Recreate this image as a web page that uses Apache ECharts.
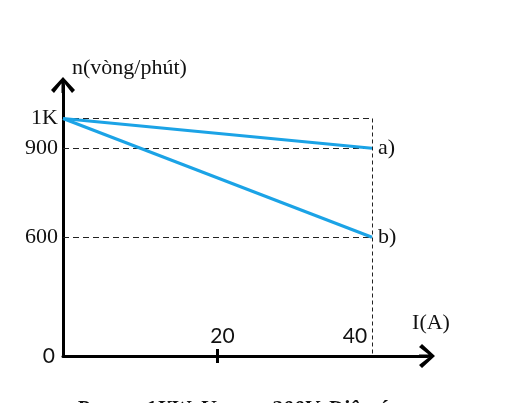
<!DOCTYPE html>
<html><head><meta charset="utf-8">
<script src="https://cdn.jsdelivr.net/npm/echarts@6/dist/echarts.min.js"></script>
<style>html,body{margin:0;padding:0;background:#fff}#c{width:510px;height:403px}</style>
</head><body><div id="c"></div>
<script>
// Data
const currents = [0, 40];            // I(A)
const speedA = [1000, 900];          // curve a) n(vòng/phút)
const speedB = [1000, 600];          // curve b)
const seriesNames = ['a)', 'b)'];
const guideSpeeds = [1000, 900, 600];
const guideCurrent = 40;
// schematic axis: bottom of the n-axis is drawn as "0" (broken scale)
const yAxisBase = 200;
const yTickValues = [200, 600, 900, 1000];
const yTickLabels = ['0', '600', '900', '1K'];
const xTickValues = [20];
const xLabelValues = [20, 40];
const xLabelTexts = ['20', '40'];

const xMax = 47.12, yMax = 1112.8;
const blue = '#1ba3e6';
const serif = '"Liberation Serif", "Times New Roman", serif';
const sans = 'Lato, "Liberation Sans", sans-serif';
const chevron = 'path://M0,13 L12,0 L24,13 L21,16 L12,4.5 L3,16 Z M10.5,4 L13.5,4 L13.5,16 L10.5,16 Z';

const gridPos = {left: 63, right: 83, top: 85, bottom: 47};

const guides = guideSpeeds.map(v => [{coord: [0, v]}, {coord: [guideCurrent, v]}]);
guides.push([{coord: [guideCurrent, guideSpeeds[0]], lineStyle: {type: [4, 3]}}, {coord: [guideCurrent, yAxisBase]}]);

const chart = echarts.init(document.getElementById('c'));
chart.setOption({
  animation: false,
  title: {
    text: '{i|P}{s|đm}{i|  =  1KW, U}{s|đm}{i|  =  200V. Điện áp}',
    left: 71, top: 392,
    textStyle: {rich: {
      i: {fontFamily: serif, fontStyle: 'italic', fontSize: 22, lineHeight: 24, color: '#111'},
      s: {fontFamily: serif, fontStyle: 'italic', fontSize: 15, lineHeight: 24, color: '#111', padding: [0, 0, 0, 2]}
    }}
  },
  grid: [Object.assign({}, gridPos), Object.assign({}, gridPos)],
  xAxis: [{
    type: 'value', min: 0, max: xMax, gridIndex: 0,
    name: 'I(A)', nameLocation: 'end', nameGap: 4,
    nameTextStyle: {fontFamily: serif, fontSize: 22, color: '#111', align: 'center', verticalAlign: 'bottom', padding: [0, 0, 22, 0]},
    splitLine: {show: false},
    axisLine: {show: true, symbol: ['none', chevron], symbolSize: [24, 16], lineStyle: {color: '#000', width: 3}},
    axisTick: {show: true, customValues: xTickValues, length: 7, lineStyle: {color: '#000', width: 3}},
    axisLabel: {
      inside: true, margin: 9, customValues: xLabelValues,
      formatter: v => { const t = xLabelTexts[xLabelValues.indexOf(v)]; return v === guideCurrent ? '{r|' + t + '}' : '{c|' + t + '}'; },
      rich: {
        c: {fontFamily: sans, fontSize: 21, color: '#111', padding: [0, 0, 0, 10]},
        r: {fontFamily: sans, fontSize: 21, color: '#111', padding: [0, 34, 0, 0]}
      }
    }
  }, {
    type: 'value', min: 0, max: xMax, gridIndex: 1,
    splitLine: {show: false}, axisLine: {show: false},
    axisTick: {show: true, inside: true, customValues: xTickValues, length: 7, lineStyle: {color: '#000', width: 3}},
    axisLabel: {show: false}
  }],
  yAxis: [{
    type: 'value', min: yAxisBase, max: yMax, gridIndex: 0,
    name: 'n(vòng/phút)', nameLocation: 'end', nameGap: 6,
    nameTextStyle: {fontFamily: serif, fontSize: 22, color: '#111', align: 'left', padding: [0, 0, 0, 9]},
    splitLine: {show: false},
    axisLine: {show: true, symbol: ['none', chevron], symbolSize: [24, 16], lineStyle: {color: '#000', width: 3}},
    axisTick: {show: false},
    axisLabel: {
      margin: 5, customValues: yTickValues,
      formatter: v => { const t = yTickLabels[yTickValues.indexOf(v)]; return v === yAxisBase ? '{s|' + t + '}' : '{t|' + t + '}'; },
      rich: {
        t: {fontFamily: serif, fontSize: 22, color: '#111'},
        s: {fontFamily: sans, fontSize: 21, color: '#111', padding: [0, 3, 0, 0]}
      }
    }
  }, {
    type: 'value', min: yAxisBase, max: yMax, gridIndex: 1, show: false
  }],
  series: [{
    name: seriesNames[0], type: 'line', xAxisIndex: 0, yAxisIndex: 0,
    data: currents.map((x, i) => [x, speedA[i]]),
    showSymbol: false, lineStyle: {color: blue, width: 3}, itemStyle: {color: blue},
    endLabel: {show: true, formatter: seriesNames[0], distance: 6, fontFamily: serif, fontSize: 22, color: '#111'},
    markLine: {silent: true, symbol: ['none', 'none'], label: {show: false},
      lineStyle: {type: [6, 4], color: '#222', width: 1}, data: guides, z: 1},
    z: 3
  }, {
    name: seriesNames[1], type: 'line', xAxisIndex: 0, yAxisIndex: 0,
    data: currents.map((x, i) => [x, speedB[i]]),
    showSymbol: false, lineStyle: {color: blue, width: 3}, itemStyle: {color: blue},
    endLabel: {show: true, formatter: seriesNames[1], distance: 6, fontFamily: serif, fontSize: 22, color: '#111'},
    z: 3
  }]
});
</script></body></html>
